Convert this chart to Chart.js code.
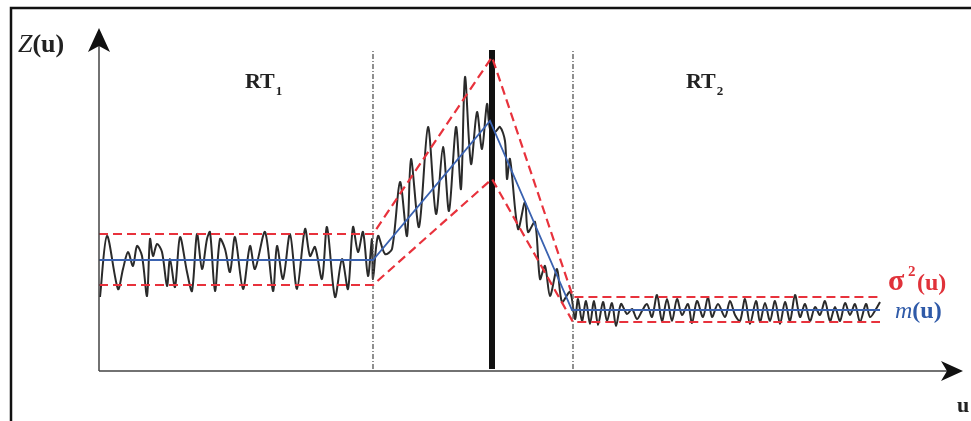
<!DOCTYPE html>
<html>
<head>
<meta charset="utf-8">
<script src="https://cdn.jsdelivr.net/npm/chart.js@4"></script>
<style>
  html, body { margin: 0; padding: 0; background: #fff; }
  #wrap { width: 971px; height: 421px; }
</style>
</head>
<body>
<div id="wrap"><canvas id="line-chart" width="971" height="421"></canvas></div>
<script>
// Dados do esquema (u = distância ao longo do eixo, Z = valor)
const signalU = [1, 8, 19, 24, 29, 34, 38, 43, 48, 51, 54, 58, 63, 68, 71, 76, 81, 88, 93, 98,
  103, 108, 111, 116, 121, 126, 131, 136, 144, 151, 156, 166, 174, 178, 184, 191, 198, 206, 211, 216,
  223, 228, 236, 243, 249, 254, 259, 264, 269, 273,
  274, 279, 286, 293, 301, 308, 312, 320, 329, 337, 344, 350, 357, 362, 366, 372, 378, 383, 388, 391,
  396, 401, 406, 408, 411, 419, 426, 429, 436, 441, 446, 451, 458, 463, 471, 476,
  479, 483, 487, 491, 495, 499, 504, 508, 513, 517, 522, 528, 533, 538, 543, 548, 553, 558, 563, 568,
  573, 578, 583, 589, 593, 598, 604, 609, 613, 619, 626, 631, 636, 641, 646, 651, 657, 661, 666, 671,
  676, 681, 686, 691, 696, 701, 706, 711, 716, 721, 726, 731, 736, 741, 746, 751, 756, 761, 767, 771,
  777, 781];
const signalZ = [74, 135, 82, 102, 119, 105, 125, 115, 75, 132, 115, 127, 119, 85, 112, 84, 134, 99, 80, 137,
  102, 132, 139, 80, 132, 122, 99, 134, 82, 125, 102, 139, 80, 125, 92, 137, 82, 142, 115, 124,
  92, 144, 74, 112, 82, 144, 119, 139, 95, 132,
  92, 135, 117, 122, 189, 135, 212, 144, 244, 157, 224, 160, 244, 182, 294, 207, 259, 222, 267, 242,
  239, 244, 230, 192, 212, 142, 169, 139, 149, 92, 105, 75, 102, 69, 79, 52,
  72, 50, 70, 47, 70, 46, 69, 50, 68, 45, 67, 57, 62, 52, 60, 67, 54, 76, 50, 72,
  50, 72, 56, 67, 48, 70, 54, 74, 54, 67, 54, 70, 56, 50, 72, 47, 70, 49, 68, 50,
  70, 47, 69, 50, 76, 54, 67, 50, 64, 56, 70, 50, 64, 50, 68, 56, 67, 49, 67, 54,
  62, 69];

// Média m(u) e envelope sigma^2(u)
const meanU = [0, 274, 391, 473, 781];
const meanZ = [111, 111, 250, 61, 61];
const envU = [0, 274, 393, 474, 781];
const upperZ = [137, 137, 314, 74, 74];
const lowerZ = [86, 86, 192, 49, 49];

// Limites das regiões
const boundaryU = [274, 474];
const changeU = 393;
const lineZ = [2, 321];
const regionLabels = ['RT', 'RT'];
const regionSubs = ['1', '2'];
const regionU = [146, 587];

const pts = (xs, ys) => xs.map((x, i) => ({ x: x, y: ys[i] }));

const datasets = [
  { data: pts(signalU, signalZ), borderColor: '#2a2a2a', borderWidth: 2, tension: 0.3, order: 6 },
  { data: pts([boundaryU[0], boundaryU[0]], lineZ), borderColor: '#555', borderWidth: 1.3, borderDash: [5, 2, 1, 2], order: 5 },
  { data: pts([boundaryU[1], boundaryU[1]], lineZ), borderColor: '#555', borderWidth: 1.3, borderDash: [5, 2, 1, 2], order: 5 },
  { data: pts([changeU, changeU], lineZ), borderColor: '#111', borderWidth: 6, order: 4 },
  { data: pts(meanU, meanZ), borderColor: '#3a62b0', borderWidth: 1.8, order: 2 },
  { data: pts(envU, upperZ), borderColor: '#e8323c', borderWidth: 2.2, borderDash: [9, 5], order: 1 },
  { data: pts(envU, lowerZ), borderColor: '#e8323c', borderWidth: 2.2, borderDash: [9, 5], order: 1 }
];

// Moldura, eixos com setas e textos
const decor = {
  id: 'decor',
  afterDraw(chart) {
    const ctx = chart.ctx;
    const xs = chart.scales.x, ys = chart.scales.y;
    const x0 = xs.getPixelForValue(0), y0 = ys.getPixelForValue(0);
    ctx.save();
    // moldura
    ctx.strokeStyle = '#111';
    ctx.lineWidth = 2.5;
    ctx.strokeRect(11, 8, 980, 440);
    // eixos
    ctx.strokeStyle = '#444';
    ctx.lineWidth = 1.5;
    ctx.beginPath();
    ctx.moveTo(x0, y0); ctx.lineTo(x0, 40);
    ctx.moveTo(x0, y0); ctx.lineTo(950, y0);
    ctx.stroke();
    ctx.fillStyle = '#111';
    ctx.beginPath();
    ctx.moveTo(x0, 28); ctx.lineTo(x0 + 11, 52); ctx.lineTo(x0, 46); ctx.lineTo(x0 - 11, 52);
    ctx.closePath(); ctx.fill();
    ctx.beginPath();
    ctx.moveTo(963, y0); ctx.lineTo(941, y0 - 10); ctx.lineTo(947, y0); ctx.lineTo(941, y0 + 10);
    ctx.closePath(); ctx.fill();
    // textos
    const serif = '"Liberation Serif", "DejaVu Serif", serif';
    ctx.textBaseline = 'alphabetic';
    ctx.fillStyle = '#222';
    ctx.font = 'italic 26px ' + serif;
    ctx.fillText('Z', 18, 52);
    let w = ctx.measureText('Z').width;
    ctx.font = 'bold 26px ' + serif;
    ctx.fillText('(u)', 18 + w, 52);
    regionLabels.forEach((t, i) => {
      const px = xs.getPixelForValue(regionU[i]);
      ctx.font = 'bold 22px ' + serif;
      ctx.fillText(t, px, 88);
      const tw = ctx.measureText(t).width;
      ctx.font = 'bold 13px ' + serif;
      ctx.fillText(regionSubs[i], px + tw + 1, 95);
    });
    ctx.font = 'bold 22px ' + serif;
    ctx.fillText('u', 957, 412);
    // sigma^2(u)
    ctx.fillStyle = '#e0323a';
    ctx.font = 'bold 30px ' + serif;
    ctx.fillText('σ', 888, 290);
    ctx.font = 'bold 15px ' + serif;
    ctx.fillText('2', 908, 276);
    ctx.font = 'bold 24px ' + serif;
    ctx.fillText('(u)', 917, 290);
    // m(u)
    ctx.fillStyle = '#2f5aa8';
    ctx.font = 'italic 24px ' + serif;
    ctx.fillText('m', 895, 318);
    w = ctx.measureText('m').width;
    ctx.font = 'bold 24px ' + serif;
    ctx.fillText('(u)', 895 + w, 318);
    ctx.restore();
  }
};

const config = {
  type: 'line',
  data: { datasets: datasets },
  options: {
    responsive: false,
    animation: false,
    layout: { padding: { left: 99, right: 16, top: 30, bottom: 50 } },
    elements: { point: { radius: 0 } },
    plugins: { legend: { display: false }, tooltip: { enabled: false } },
    scales: {
      x: { type: 'linear', display: false, min: 0, max: 856 },
      y: { type: 'linear', display: false, min: 0, max: 341 }
    }
  },
  plugins: [decor]
};

window.onload = function () {
  const ctx = document.getElementById('line-chart').getContext('2d');
  new Chart(ctx, config);
};
</script>
</body>
</html>
